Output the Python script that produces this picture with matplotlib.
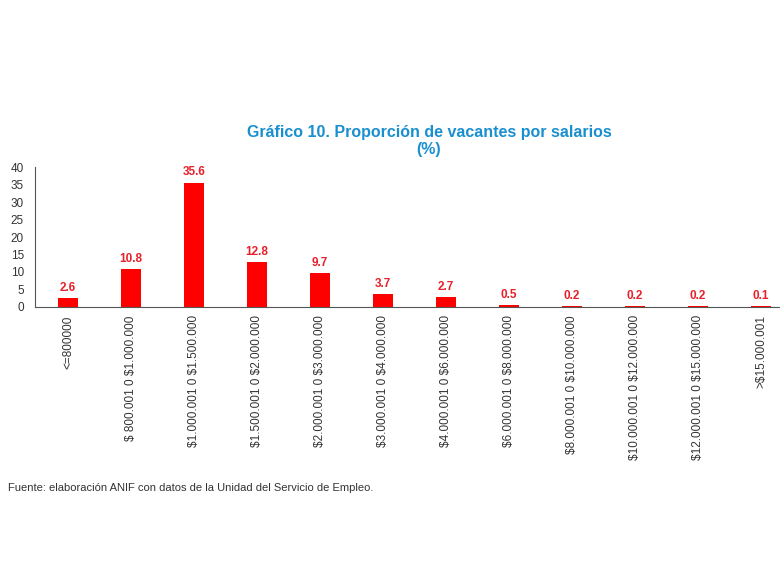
import matplotlib
matplotlib.use("Agg")
import matplotlib.pyplot as plt

categories = ["<=800000", "$ 800.001 0 $1.000.000", "$1.000.001 0 $1.500.000",
              "$1.500.001 0 $2.000.000", "$2.000.001 0 $3.000.000", "$3.000.001 0 $4.000.000",
              "$4.000.001 0 $6.000.000", "$6.000.001 0 $8.000.000", "$8.000.001 0 $10.000.000",
              "$10.000.001 0 $12.000.000", "$12.000.001 0 $15.000.000", ">$15.000.001"]
values = [2.6, 10.8, 35.6, 12.8, 9.7, 3.7, 2.7, 0.5, 0.2, 0.2, 0.2, 0.1]
yticks = [0, 5, 10, 15, 20, 25, 30, 35, 40]

plt.rcParams["font.family"] = "Liberation Sans"
plt.rcParams["text.parse_math"] = False
fig = plt.figure(figsize=(7.8, 5.65), dpi=100)
ax = fig.add_axes([0.045, 0.457, 0.955, 0.247])
x = list(range(len(values)))
ax.bar(x, values, width=0.32, color="#ff0000")
for xi, v in zip(x, values):
    ax.text(xi, v + 1.2, f"{v:.1f}", ha="center", va="bottom", color="#e8202a",
            fontsize=8.5, fontweight="bold")
ax.set_xlim(-0.525, 11.3)
ax.set_ylim(0, 40)
ax.set_yticks(yticks)
ax.tick_params(axis="y", length=0, labelsize=8.5, colors="#333333", pad=8)
ax.set_xticks(x)
ax.set_xticklabels(categories, rotation=90, fontsize=8.5, color="#333333")
ax.tick_params(axis="x", length=0, pad=6)
for s in ["top", "right"]:
    ax.spines[s].set_visible(False)
ax.spines["left"].set_color("#555555")
ax.spines["bottom"].set_color("#555555")
fig.text(0.55, 1 - 141/565, "Gráfico 10. Proporción de vacantes por salarios\n(%)",
         ha="center", va="center", color="#1a8fd0", fontsize=11.5, fontweight="bold",
         linespacing=1.15)
fig.text(0.01, 1 - 488/565, "Fuente: elaboración ANIF con datos de la Unidad del Servicio de Empleo.",
         ha="left", va="center", fontsize=8, color="#333333")
fig.savefig("out.png", dpi=100, facecolor="white")
